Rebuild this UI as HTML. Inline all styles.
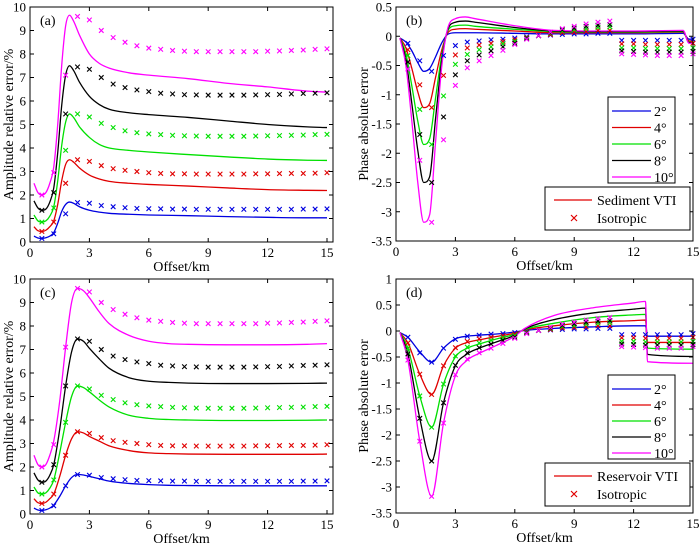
<!DOCTYPE html>
<html><head><meta charset="utf-8"><style>
html,body{margin:0;padding:0;background:#fff;}
svg text{font-family:"Liberation Serif",serif;}
</style></head><body>
<svg id="fig" width="700" height="545" xmlns="http://www.w3.org/2000/svg"></svg>
<script>
// ---------- data ----------
const isoX = [0.6,1.2,1.8,2.4,3.0,3.6,4.2,4.8,5.4,6.0,6.6,7.2,7.8,8.4,9.0,9.6,10.2,10.8,11.4,12.0,12.6,13.2,13.8,14.4,15.0];
const ampIso10 = [2.0,2.95,7.1,9.6,9.45,9.0,8.7,8.5,8.35,8.25,8.2,8.15,8.12,8.1,8.1,8.1,8.1,8.1,8.1,8.12,8.13,8.15,8.17,8.2,8.22];
const ampIso8 = [1.35,2.1,5.45,7.45,7.35,7.0,6.72,6.57,6.47,6.4,6.33,6.3,6.27,6.26,6.25,6.25,6.25,6.25,6.26,6.27,6.28,6.3,6.32,6.33,6.35];
const ampIso6 = [0.85,1.45,3.9,5.45,5.32,5.05,4.87,4.73,4.65,4.6,4.57,4.54,4.52,4.51,4.5,4.5,4.5,4.5,4.51,4.52,4.53,4.54,4.55,4.57,4.58];
const ampIso4 = [0.45,0.85,2.5,3.5,3.43,3.25,3.12,3.05,3.0,2.95,2.92,2.9,2.9,2.89,2.89,2.89,2.89,2.89,2.9,2.9,2.91,2.92,2.92,2.93,2.95];
const ampIso2 = [0.15,0.35,1.2,1.68,1.65,1.55,1.5,1.46,1.43,1.42,1.41,1.4,1.4,1.39,1.39,1.39,1.39,1.39,1.39,1.39,1.39,1.39,1.4,1.4,1.41];

const phIso2 = [-0.12,-0.42,-0.6,-0.33,-0.16,-0.1,-0.08,-0.06,-0.05,-0.03,-0.01,0.01,0.02,0.03,0.04,0.04,0.05,0.05,-0.07,-0.07,-0.07,-0.07,-0.07,-0.07,-0.05];
const phIso4 = [-0.23,-0.83,-1.22,-0.67,-0.32,-0.2,-0.15,-0.12,-0.09,-0.06,-0.02,0.01,0.03,0.06,0.07,0.08,0.1,0.1,-0.13,-0.13,-0.14,-0.14,-0.14,-0.14,-0.12];
const phIso6 = [-0.33,-1.25,-1.85,-1.02,-0.48,-0.31,-0.23,-0.18,-0.13,-0.09,-0.03,0.01,0.05,0.09,0.11,0.13,0.15,0.16,-0.2,-0.2,-0.21,-0.21,-0.21,-0.21,-0.2];
const phIso8 = [-0.44,-1.68,-2.5,-1.38,-0.66,-0.42,-0.32,-0.25,-0.18,-0.12,-0.04,0.01,0.06,0.11,0.14,0.17,0.19,0.2,-0.25,-0.26,-0.27,-0.27,-0.27,-0.27,-0.26];
const phIso10 = [-0.56,-2.12,-3.18,-1.77,-0.84,-0.54,-0.42,-0.33,-0.24,-0.14,-0.05,0.01,0.07,0.13,0.17,0.21,0.24,0.26,-0.3,-0.31,-0.32,-0.33,-0.33,-0.33,-0.3];

const aX = [0.2,0.4,0.6,0.8,1.0,1.2,1.4,1.6,1.8,2.0,2.2,2.5,3,3.5,4,5,6,8,10,12,14,15];
const a10 = [2.5,2.1,2.0,2.1,2.5,3.2,5,7.5,9.2,9.65,9.4,8.8,8.0,7.6,7.4,7.2,7.1,6.95,6.75,6.6,6.42,6.38];
const a8 = [1.75,1.45,1.35,1.4,1.7,2.3,3.8,5.8,7.1,7.5,7.3,6.8,6.2,5.85,5.65,5.5,5.42,5.3,5.15,5.0,4.9,4.87];
const a6 = [1.15,0.9,0.85,0.9,1.1,1.5,2.6,4.1,5.1,5.45,5.3,4.9,4.45,4.15,4.0,3.9,3.83,3.72,3.62,3.53,3.48,3.47];
const a4 = [0.65,0.48,0.45,0.5,0.65,0.9,1.6,2.6,3.3,3.5,3.4,3.15,2.85,2.68,2.58,2.5,2.45,2.38,2.3,2.23,2.2,2.19];
const a2 = [0.25,0.17,0.15,0.18,0.25,0.4,0.8,1.3,1.6,1.7,1.65,1.5,1.35,1.27,1.22,1.18,1.15,1.12,1.08,1.05,1.03,1.03];

const cX = [0.2,0.4,0.6,0.8,1.0,1.2,1.5,1.8,2.1,2.4,2.7,3,3.5,4,5,6,7,8,10,12,14,15];
const c10 = [2.5,2.1,2.0,2.1,2.5,3.1,4.8,7.1,9.0,9.6,9.5,9.2,8.6,8.1,7.6,7.35,7.25,7.22,7.2,7.2,7.22,7.25];
const c8 = [1.75,1.45,1.35,1.4,1.65,2.1,3.6,5.45,6.9,7.45,7.35,7.05,6.6,6.2,5.8,5.65,5.6,5.57,5.55,5.55,5.56,5.57];
const c6 = [1.15,0.9,0.85,0.9,1.1,1.45,2.6,3.9,5.0,5.45,5.38,5.2,4.85,4.55,4.2,4.07,4.02,4.0,3.98,3.98,3.99,4.0];
const c4 = [0.65,0.48,0.45,0.5,0.65,0.85,1.6,2.5,3.2,3.5,3.45,3.3,3.1,2.9,2.7,2.6,2.57,2.55,2.54,2.54,2.54,2.55];
const c2 = [0.25,0.17,0.15,0.18,0.25,0.38,0.75,1.2,1.55,1.68,1.66,1.6,1.5,1.4,1.3,1.25,1.22,1.21,1.2,1.2,1.2,1.2];

const bX = [0.2,0.5,0.8,1.1,1.4,1.7,2.0,2.3,2.6,3,3.5,4,6,8,10,12,14.5,14.8,15];
const b2 = [-0.03,-0.1,-0.25,-0.45,-0.6,-0.55,-0.35,-0.12,0.03,0.06,0.06,0.06,0.05,0.04,0.04,0.04,0.05,-0.05,-0.05];
const b4 = [-0.03,-0.2,-0.55,-0.95,-1.22,-1.15,-0.7,-0.25,0.05,0.12,0.13,0.12,0.09,0.06,0.06,0.06,0.07,-0.08,-0.08];
const b6 = [-0.03,-0.3,-0.85,-1.45,-1.85,-1.75,-1.05,-0.35,0.08,0.18,0.19,0.17,0.12,0.08,0.07,0.07,0.08,-0.1,-0.1];
const b8 = [-0.03,-0.4,-1.15,-1.95,-2.5,-2.4,-1.4,-0.45,0.1,0.24,0.26,0.24,0.15,0.09,0.08,0.08,0.09,-0.11,-0.11];
const b10 = [-0.03,-0.5,-1.45,-2.5,-3.18,-3.05,-1.8,-0.55,0.12,0.3,0.33,0.3,0.18,0.1,0.09,0.09,0.1,-0.12,-0.12];

const dX = [0.2,0.6,1.2,1.8,2.4,3,3.6,4.2,5,6,6.5,8,10,12,12.6,12.7,15];
const d2 = [-0.03,-0.12,-0.4,-0.6,-0.33,-0.15,-0.1,-0.08,-0.06,-0.02,0.01,0.05,0.08,0.1,0.1,-0.1,-0.1];
const d4 = [-0.03,-0.23,-0.83,-1.22,-0.67,-0.33,-0.22,-0.17,-0.11,-0.04,0.02,0.1,0.17,0.2,0.21,-0.22,-0.22];
const d6 = [-0.03,-0.33,-1.25,-1.85,-1.02,-0.5,-0.33,-0.25,-0.16,-0.06,0.03,0.15,0.26,0.31,0.32,-0.33,-0.35];
const d8 = [-0.03,-0.44,-1.68,-2.5,-1.38,-0.67,-0.44,-0.33,-0.22,-0.08,0.04,0.22,0.35,0.42,0.44,-0.45,-0.49];
const d10 = [-0.03,-0.56,-2.12,-3.18,-1.77,-0.86,-0.56,-0.43,-0.29,-0.1,0.05,0.3,0.45,0.54,0.57,-0.59,-0.62];

const xTicks = [0,3,6,9,12,15];
const ampTicks = [0,1,2,3,4,5,6,7,8,9,10];
const phTicksB = [0.5,0,-0.5,-1,-1.5,-2,-2.5,-3,-3.5];
const phTicksD = [1,0.5,0,-0.5,-1,-1.5,-2,-2.5,-3,-3.5];
const angleLabels = ["2°","4°","6°","8°","10°"];
const colors = ["#0000e0","#e00000","#00e000","#000000","#ff00ff"];

// ---------- drawing ----------
const NS="http://www.w3.org/2000/svg";
const fig=document.getElementById('fig');
function mk(tag,attrs,parent){const e=document.createElementNS(NS,tag);for(const k in attrs)e.setAttribute(k,attrs[k]);(parent||fig).appendChild(e);return e;}

// monotone cubic (Fritsch–Carlson) path through pixel points
function smoothPath(px,py){
  const n=px.length;
  const d=[],m=new Array(n);
  for(let i=0;i<n-1;i++)d.push((py[i+1]-py[i])/(px[i+1]-px[i]));
  m[0]=d[0];m[n-1]=d[n-2];
  for(let i=1;i<n-1;i++){m[i]=(d[i-1]*d[i]<=0)?0:(d[i-1]+d[i])/2;}
  for(let i=0;i<n-1;i++){
    if(d[i]===0){m[i]=0;m[i+1]=0;continue;}
    const a=m[i]/d[i],b=m[i+1]/d[i],s=a*a+b*b;
    if(s>9){const t=3/Math.sqrt(s);m[i]=t*a*d[i];m[i+1]=t*b*d[i];}
  }
  let p='M'+px[0]+','+py[0];
  for(let i=0;i<n-1;i++){
    const h=(px[i+1]-px[i])/3;
    p+=`C${px[i]+h},${py[i]+m[i]*h} ${px[i+1]-h},${py[i+1]-m[i+1]*h} ${px[i+1]},${py[i+1]}`;
  }
  return p;
}

function panel(cfg){
  const g=mk('g',{});
  
  
  const sx=v=>cfg.x0+(v-cfg.xmin)/(cfg.xmax-cfg.xmin)*(cfg.x1-cfg.x0);
  const sy=v=>cfg.y1-(v-cfg.ymin)/(cfg.ymax-cfg.ymin)*(cfg.y1-cfg.y0);
  cfg.lines.forEach((ys,i)=>{
    const p=mk('path',{d:smoothPath(cfg.lx.map(sx),ys.map(sy)),fill:'none',stroke:colors[i],'stroke-width':1.3},g);
    
    
  });
  cfg.iso.forEach((ys,i)=>{
    ys.forEach((y,j)=>{
      const cx=sx(isoX[j]),cy=sy(y),r=2.3;
      const m=mk('path',{d:`M${cx-r},${cy-r}L${cx+r},${cy+r}M${cx-r},${cy+r}L${cx+r},${cy-r}`,stroke:colors[i],'stroke-width':1.1,fill:'none'},g);
      
      
    });
  });
  const box=mk('rect',{x:cfg.x0,y:cfg.y0,width:cfg.xr-cfg.x0,height:cfg.y1-cfg.y0,fill:'none',stroke:'#000','stroke-width':1},g);
  
  
  xTicks.forEach(t=>{
    const x=sx(t);
    mk('line',{x1:x,y1:cfg.y1,x2:x,y2:cfg.y1-4,stroke:'#000'},g);
    mk('line',{x1:x,y1:cfg.y0,x2:x,y2:cfg.y0+4,stroke:'#000'},g);
    const tx=mk('text',{x:x,y:cfg.y1+15,'font-size':13,'text-anchor':'middle'},g);
    tx.textContent=t;
    
    
  });
  cfg.yTicks.forEach(t=>{
    const y=sy(t);
    mk('line',{x1:cfg.x0,y1:y,x2:cfg.x0+4,y2:y,stroke:'#000'},g);
    mk('line',{x1:cfg.xr,y1:y,x2:cfg.xr-4,y2:y,stroke:'#000'},g);
    const tx=mk('text',{x:cfg.x0-4,y:y+4.5,'font-size':13,'text-anchor':'end'},g);
    tx.textContent=t;
    
    
  });
  const xt=mk('text',{x:(cfg.x0+cfg.xr)/2,y:cfg.y1+29,'font-size':14,'text-anchor':'middle'},g);
  xt.textContent='Offset/km';
  
  
  const yt=mk('text',{x:0,y:0,'font-size':14,'text-anchor':'middle',transform:`translate(${cfg.ytx},${(cfg.y0+cfg.y1)/2}) rotate(-90)`},g);
  yt.textContent=cfg.ytitle;
  
  
  const pl=mk('text',{x:cfg.x0+10,y:cfg.y0+18,'font-size':14},g);
  pl.textContent=cfg.label;
  
  
  if(cfg.legend){
    const L=cfg.legend;
    const lb=mk('rect',{x:608,y:L.y,width:67,height:L.h,fill:'#fff',stroke:'#000'},g);
    
    
    angleLabels.forEach((lab,i)=>{
      const ry=L.y+14+i*(L.h-20)/4;
      mk('line',{x1:612,y1:ry,x2:651,y2:ry,stroke:colors[i],'stroke-width':1.3},g);
      const t=mk('text',{x:654,y:ry+5,'font-size':14},g);
      t.textContent=lab;
      
      
    });
    const lb2=mk('rect',{x:545,y:L.y2,width:145,height:43,fill:'#fff',stroke:'#000'},g);
    
    
    mk('line',{x1:554,y1:L.y2+13,x2:592,y2:L.y2+13,stroke:'#e00000','stroke-width':1.3},g);
    const t1=mk('text',{x:597,y:L.y2+18,'font-size':14},g);
    t1.textContent=L.vti;
    
    
    const cx=574,cy=L.y2+31,r=3;
    mk('path',{d:`M${cx-r},${cy-r}L${cx+r},${cy+r}M${cx-r},${cy+r}L${cx+r},${cy-r}`,stroke:'#e00000','stroke-width':1.2},g);
    const t2=mk('text',{x:597,y:L.y2+36,'font-size':14},g);
    t2.textContent='Isotropic';
    
    
  }
}

panel({name:'panel-a',label:'(a)',x0:30,x1:327,xr:333,xmin:0,xmax:15,y0:7,y1:242,ymin:0,ymax:10,yTicks:ampTicks,ytitle:'Amplitude relative error/%',ytx:13,lx:aX,lines:[a2,a4,a6,a8,a10],iso:[ampIso2,ampIso4,ampIso6,ampIso8,ampIso10]});
panel({name:'panel-b',label:'(b)',x0:396,x1:693,xr:693,xmin:0,xmax:15,y0:7,y1:241,ymin:-3.5,ymax:0.5,yTicks:phTicksB,ytitle:'Phase absolute error',ytx:368,lx:bX,lines:[b2,b4,b6,b8,b10],iso:[phIso2,phIso4,phIso6,phIso8,phIso10],legend:{y:97,h:86,y2:187,vti:'Sediment VTI'}});
panel({name:'panel-c',label:'(c)',x0:30,x1:327,xr:333,xmin:0,xmax:15,y0:279,y1:514,ymin:0,ymax:10,yTicks:ampTicks,ytitle:'Amplitude relative error/%',ytx:13,lx:cX,lines:[c2,c4,c6,c8,c10],iso:[ampIso2,ampIso4,ampIso6,ampIso8,ampIso10]});
panel({name:'panel-d',label:'(d)',x0:396,x1:693,xr:693,xmin:0,xmax:15,y0:279,y1:513,ymin:-3.5,ymax:1,yTicks:phTicksD,ytitle:'Phase absolute error',ytx:368,lx:dX,lines:[d2,d4,d6,d8,d10],iso:[phIso2,phIso4,phIso6,phIso8,phIso10],legend:{y:375,h:84,y2:463,vti:'Reservoir VTI'}});
</script>
</body></html>
